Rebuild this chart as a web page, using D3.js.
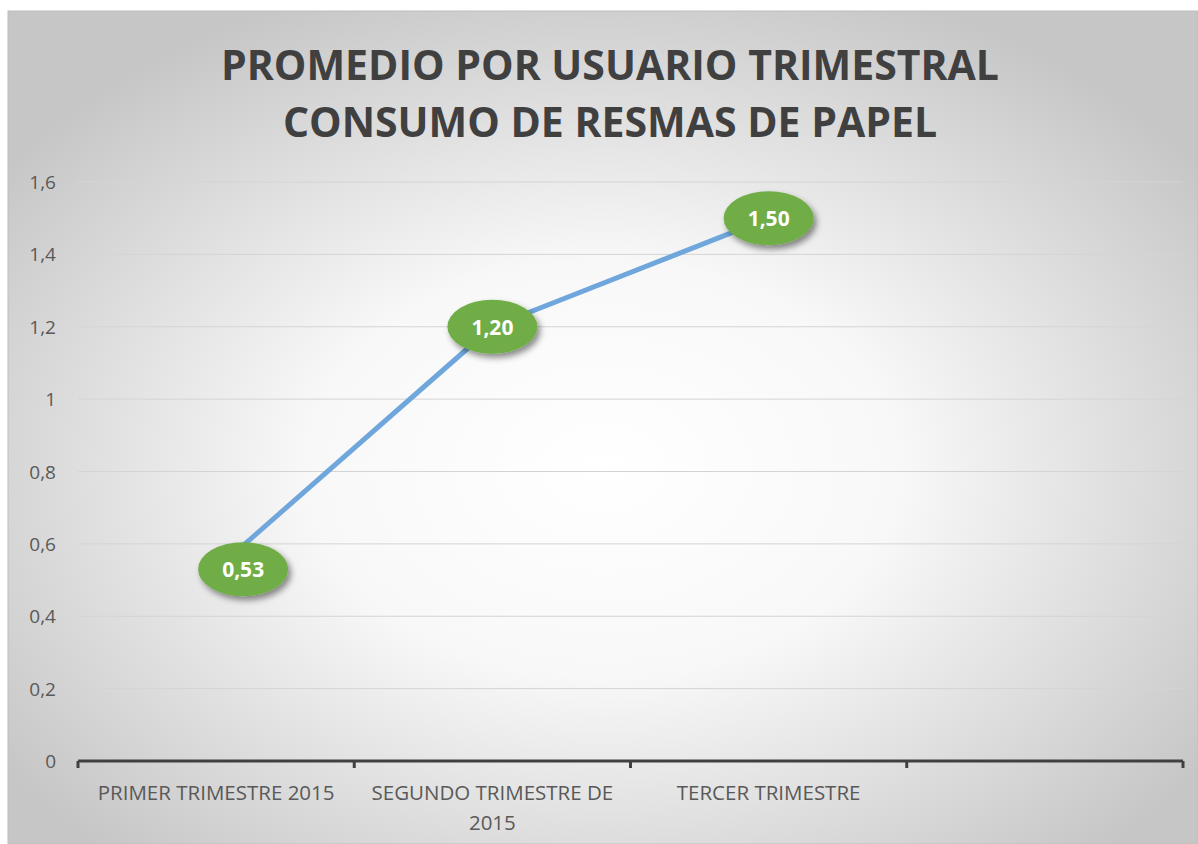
<!DOCTYPE html>
<html>
<head>
<meta charset="utf-8">
<script src="https://cdn.jsdelivr.net/npm/d3@7"></script>
<style>
  body { margin: 0; background: #fff; }
  svg { display: block; }
</style>
</head>
<body>
<script>
const width = 1198;
const height = 844;

const titleLines = ["PROMEDIO POR USUARIO TRIMESTRAL", "CONSUMO DE RESMAS DE PAPEL"];
const categories = ["PRIMER TRIMESTRE 2015", "SEGUNDO TRIMESTRE DE 2015", "TERCER TRIMESTRE", ""];
const values = [0.53, 1.20, 1.50];
const valueLabels = ["0,53", "1,20", "1,50"];
const yTicks = [0, 0.2, 0.4, 0.6, 0.8, 1, 1.2, 1.4, 1.6];

const margin = {left: 78, right: 15, top: 182, bottom: 83};

const svg = d3.select("body")
  .append("svg")
  .attr("width", width)
  .attr("height", height);

const defs = svg.append("defs");
const bg = defs.append("radialGradient")
  .attr("id", "bg")
  .attr("cx", "0.5").attr("cy", "0.55").attr("r", "0.62");
bg.append("stop").attr("offset", "0%").attr("stop-color", "#ffffff");
bg.append("stop").attr("offset", "40%").attr("stop-color", "#f8f8f8");
bg.append("stop").attr("offset", "100%").attr("stop-color", "#c6c6c6");

const shadow = defs.append("filter").attr("id", "shadow")
  .attr("x", "-30%").attr("y", "-30%").attr("width", "170%").attr("height", "180%");
shadow.append("feDropShadow")
  .attr("dx", 3).attr("dy", 4).attr("stdDeviation", 3)
  .attr("flood-color", "#000").attr("flood-opacity", 0.45);

// chart area
svg.append("rect")
  .attr("x", 8).attr("y", 11)
  .attr("width", width - 8).attr("height", height - 11)
  .attr("fill", "url(#bg)")
  .attr("stroke", "#bdbdbd").attr("stroke-width", 1);

// title
svg.append("text")
  .attr("x", 610).attr("y", 80)
  .attr("text-anchor", "middle")
  .attr("font-family", "'Open Sans', sans-serif")
  .attr("font-weight", "bold")
  .attr("font-size", 41)
  .attr("fill", "#404040")
  .selectAll("tspan")
  .data(titleLines)
  .enter()
  .append("tspan")
  .attr("x", 610)
  .attr("dy", (d, i) => i === 0 ? 0 : 57)
  .text(d => d);

const x = d3.scaleBand()
  .domain(categories.map((d, i) => i))
  .range([margin.left, width - margin.right]);

const y = d3.scaleLinear()
  .domain([0, 1.6])
  .range([height - margin.bottom, margin.top]);

// gridlines
svg.append("g")
  .selectAll("line")
  .data(yTicks.slice(1))
  .enter()
  .append("line")
  .attr("x1", margin.left)
  .attr("x2", width - margin.right)
  .attr("y1", d => y(d))
  .attr("y2", d => y(d))
  .attr("stroke", "#d4d4d4")
  .attr("stroke-width", 1);

// y labels
svg.append("g")
  .selectAll("text")
  .data(yTicks)
  .enter()
  .append("text")
  .attr("x", 56)
  .attr("y", d => y(d) + 7)
  .attr("text-anchor", "end")
  .attr("font-family", "'Open Sans', sans-serif")
  .attr("font-size", 19)
  .attr("fill", "#595959")
  .text(d => d3.format("~g")(d).replace(".", ","));

// x axis
const xAxis = svg.append("g");
xAxis.append("line")
  .attr("x1", margin.left).attr("x2", width - margin.right)
  .attr("y1", y(0)).attr("y2", y(0))
  .attr("stroke", "#404040").attr("stroke-width", 3);
const tickPos = categories.map((d, i) => x(i)).concat([width - margin.right]);
xAxis.selectAll(".tick")
  .data(tickPos)
  .enter()
  .append("line")
  .attr("x1", d => d).attr("x2", d => d)
  .attr("y1", y(0)).attr("y2", y(0) + 7)
  .attr("stroke", "#404040").attr("stroke-width", 3);

// x labels, wrapped
const labelMax = x.bandwidth() - 10;
xAxis.selectAll(".xl")
  .data(categories)
  .enter()
  .append("text")
  .attr("class", "xl")
  .attr("text-anchor", "middle")
  .attr("font-family", "'Open Sans', sans-serif")
  .attr("font-size", 20.5)
  .attr("fill", "#595959")
  .each(function(d, i) {
    const t = d3.select(this);
    const cx = x(i) + x.bandwidth() / 2;
    const words = d.split(" ");
    let lines = [], cur = [];
    words.forEach(w => {
      cur.push(w);
      t.text(cur.join(" "));
      if (this.getComputedTextLength() > labelMax && cur.length > 1) {
        cur.pop();
        lines.push(cur.join(" "));
        cur = [w];
      }
    });
    lines.push(cur.join(" "));
    t.text(null);
    lines.forEach((l, j) => {
      t.append("tspan").attr("x", cx).attr("y", 800 + j * 30).text(l);
    });
  });

// line
const line = d3.line()
  .x((d, i) => x(i) + x.bandwidth() / 2)
  .y(d => y(d));

svg.append("path")
  .datum(values)
  .attr("fill", "none")
  .attr("stroke", "#6fa6dc")
  .attr("stroke-width", 5)
  .attr("stroke-linejoin", "round")
  .attr("d", line);

// data labels
const labelShift = [27, 0, 0];
const lbl = svg.append("g")
  .selectAll("g")
  .data(values)
  .enter()
  .append("g")
  .attr("transform", (d, i) => `translate(${x(i) + x.bandwidth() / 2 + labelShift[i]},${y(d)})`);

lbl.append("ellipse")
  .attr("rx", 45).attr("ry", 27)
  .attr("fill", "#70ad47")
  .attr("filter", "url(#shadow)");

lbl.append("text")
  .attr("text-anchor", "middle")
  .attr("y", 8)
  .attr("font-family", "'Open Sans', sans-serif")
  .attr("font-weight", "bold")
  .attr("font-size", 21)
  .attr("fill", "#fff")
  .text((d, i) => valueLabels[i]);
</script>
</body>
</html>
